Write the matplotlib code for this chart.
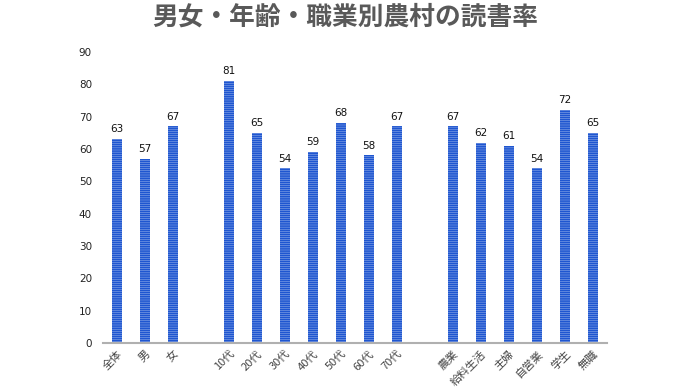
import matplotlib
matplotlib.use("Agg")
import matplotlib.pyplot as plt
import numpy as np

plt.rcParams['font.family'] = ['Noto Sans CJK JP', 'DejaVu Sans']
plt.rcParams['hatch.linewidth'] = 1.3

categories = ['全体', '男', '女', '', '10代', '20代', '30代', '40代', '50代', '60代', '70代', '',
              '農業', '給料生活', '主婦', '自営業', '学生', '無職']
values = [63, 57, 67, None, 81, 65, 54, 59, 68, 58, 67, None, 67, 62, 61, 54, 72, 65]
title = '男女・年齢・職業別農村の読書率'
yticks = [0, 10, 20, 30, 40, 50, 60, 70, 80, 90]

fig = plt.figure(figsize=(6.94, 3.90), dpi=100)
ax = fig.add_axes([0.1484, 0.1205, 0.7262, 0.7462])

x = np.arange(len(categories))
for xi, v in zip(x, values):
    if v is None:
        continue
    ax.bar(xi, v, width=0.38, facecolor='white', edgecolor='#1f56d0', hatch='--------', linewidth=0)
    ax.text(xi, v + 1.5, str(v), ha='center', va='bottom', fontsize=7.5, color='#111111',
            family=['DejaVu Sans'])

ax.set_xlim(-0.5, len(categories) - 0.5)
ax.set_ylim(0, 90)
ax.set_yticks(yticks)
ax.set_yticklabels([str(t) for t in yticks], fontsize=7.5, color='#222222', family=['DejaVu Sans'])
ax.set_xticks(x)
ax.set_xticklabels(categories, rotation=45, ha='right', rotation_mode='anchor', fontsize=8, color='#444444')
ax.tick_params(axis='both', length=0)
ax.tick_params(axis='y', pad=8)
ax.tick_params(axis='x', pad=4)
for s in ['top', 'right', 'left']:
    ax.spines[s].set_visible(False)
ax.spines['bottom'].set_color('#b0b0b0')
ax.spines['bottom'].set_linewidth(1.5)

fig.text(0.498, 0.957, title, ha='center', va='center', fontsize=18.5, fontweight='bold', color='#595959')

fig.savefig('out.png', dpi=100)
